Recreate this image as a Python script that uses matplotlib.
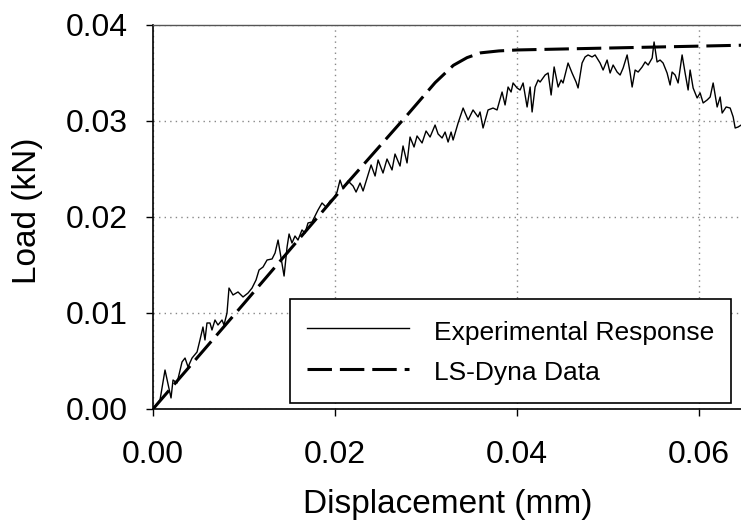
import numpy as np
import matplotlib
matplotlib.use('Agg')
import matplotlib.pyplot as plt

plt.rcParams['font.family'] = ['Liberation Sans', 'DejaVu Sans']

# experimental curve (displacement mm, load kN)
exp_disp = [0, 0.00077, 0.00132, 0.00198, 0.00220, 0.00264, 0.00319, 0.00352, 0.00385, 0.00429,
            0.00484, 0.00516, 0.00549, 0.00571, 0.00593, 0.00626, 0.00648, 0.00681, 0.00714, 0.00758,
            0.00780, 0.00813, 0.00835, 0.00879, 0.00934, 0.00989, 0.01044, 0.01088, 0.01132, 0.01165,
            0.01209, 0.01253, 0.01308, 0.01341, 0.01374, 0.01407, 0.01440, 0.01473, 0.01495, 0.01527,
            0.01560, 0.01593, 0.01637, 0.01670, 0.01703, 0.01747, 0.01780, 0.01813, 0.01857, 0.01901,
            0.01945, 0.01989, 0.02022, 0.02055, 0.02088, 0.02143, 0.02198, 0.02231, 0.02275, 0.02308,
            0.02352, 0.02396, 0.02440, 0.02473, 0.02527, 0.02571, 0.02626, 0.02659, 0.02714, 0.02747,
            0.02791, 0.02824, 0.02868, 0.02901, 0.02956, 0.03000, 0.03044, 0.03099, 0.03132, 0.03176,
            0.03209, 0.03242, 0.03275, 0.03297, 0.03352, 0.03407, 0.03462, 0.03516, 0.03571, 0.03593,
            0.03626, 0.03681, 0.03736, 0.03780, 0.03835, 0.03868, 0.03901, 0.03934, 0.03956, 0.04000,
            0.04033, 0.04066, 0.04110, 0.04143, 0.04165, 0.04198, 0.04231, 0.04253, 0.04308, 0.04341,
            0.04374, 0.04407, 0.04451, 0.04484, 0.04505, 0.04560, 0.04604, 0.04648, 0.04670, 0.04714,
            0.04747, 0.04780, 0.04824, 0.04857, 0.04912, 0.04945, 0.04989, 0.05022, 0.05055, 0.05099,
            0.05132, 0.05165, 0.05209, 0.05242, 0.05264, 0.05297, 0.05330, 0.05374, 0.05407, 0.05440,
            0.05484, 0.05505, 0.05538, 0.05571, 0.05604, 0.05648, 0.05681, 0.05703, 0.05736, 0.05769,
            0.05813, 0.05846, 0.05879, 0.05901, 0.05934, 0.05978, 0.06011, 0.06044, 0.06088, 0.06121,
            0.06154, 0.06198, 0.06231, 0.06253, 0.06297, 0.06341, 0.06374, 0.06396, 0.06429, 0.06462]
exp_load = [0, 0.00094, 0.00406, 0.00115, 0.00302, 0.00271, 0.00490, 0.00531, 0.00438, 0.00531,
            0.00594, 0.00719, 0.00854, 0.00719, 0.00896, 0.00896, 0.00823, 0.00927, 0.00875, 0.00927,
            0.00875, 0.01000, 0.01260, 0.01188, 0.01219, 0.01167, 0.01208, 0.01260, 0.01344, 0.01448,
            0.01479, 0.01552, 0.01563, 0.01625, 0.01760, 0.01573, 0.01385, 0.01688, 0.01823, 0.01729,
            0.01802, 0.01760, 0.01865, 0.01833, 0.01938, 0.01948, 0.02010, 0.02073, 0.02146, 0.02104,
            0.02167, 0.02198, 0.02260, 0.02385, 0.02292, 0.02375, 0.02323, 0.02260, 0.02354, 0.02271,
            0.02406, 0.02542, 0.02427, 0.02594, 0.02458, 0.02604, 0.02490, 0.02656, 0.02531, 0.02740,
            0.02563, 0.02833, 0.02729, 0.02844, 0.02771, 0.02896, 0.02833, 0.02958, 0.02865, 0.02823,
            0.02885, 0.02781, 0.02885, 0.02802, 0.02979, 0.03135, 0.03010, 0.03115, 0.03042, 0.03094,
            0.02927, 0.03115, 0.03135, 0.03115, 0.03302, 0.03167, 0.03354, 0.03302, 0.03396, 0.03344,
            0.03323, 0.03396, 0.03146, 0.03354, 0.03094, 0.03354, 0.03427, 0.03406, 0.03479, 0.03500,
            0.03271, 0.03563, 0.03354, 0.03427, 0.03396, 0.03604, 0.03500, 0.03406, 0.03344, 0.03604,
            0.03667, 0.03688, 0.03667, 0.03688, 0.03604, 0.03531, 0.03635, 0.03500, 0.03583, 0.03510,
            0.03479, 0.03552, 0.03688, 0.03500, 0.03354, 0.03531, 0.03510, 0.03563, 0.03615, 0.03583,
            0.03656, 0.03823, 0.03615, 0.03635, 0.03604, 0.03500, 0.03375, 0.03510, 0.03479, 0.03396,
            0.03688, 0.03500, 0.03323, 0.03531, 0.03344, 0.03240, 0.03292, 0.03188, 0.03219, 0.03250,
            0.03396, 0.03146, 0.03250, 0.03083, 0.03146, 0.03135, 0.03042, 0.02927, 0.02938, 0.02958]

# LS-Dyna simulation curve
dyna_disp = [0, 0.010, 0.020, 0.028, 0.031, 0.033, 0.0345, 0.036, 0.038, 0.040,
             0.045, 0.050, 0.055, 0.060, 0.065]
dyna_load = [0, 0.0110, 0.0221, 0.0307, 0.0340, 0.0358, 0.0366, 0.0371, 0.0373, 0.0374,
             0.0375, 0.0376, 0.0377, 0.0378, 0.0379]

xticks = [0.00, 0.02, 0.04, 0.06]
yticks = [0.00, 0.01, 0.02, 0.03, 0.04]

fig = plt.figure(figsize=(7.41, 5.27), dpi=100)
ax = fig.add_axes([153 / 741, 118 / 527, 588 / 741, 384 / 527])

ax.plot(exp_disp, exp_load, color='black', lw=1.0, label='Experimental Response')
ax.plot(dyna_disp, dyna_load, color='black', lw=2.2, dashes=(8, 2.6),
        label='LS-Dyna Data')

ax.set_xlim(0, 0.0646)
ax.set_ylim(0, 0.04)
ax.set_xticks(xticks)
ax.set_yticks(yticks)
ax.set_xticklabels(['%.2f' % v for v in xticks])
ax.set_yticklabels(['%.2f' % v for v in yticks])
ax.tick_params(axis='both', direction='out', length=5, width=1, labelsize=23)
ax.tick_params(axis='y', pad=13)
ax.tick_params(axis='x', pad=17)

ax.grid(True, linestyle=(0, (1, 3)), color='#888888', lw=1)
ax.set_axisbelow(True)
ax.spines['right'].set_visible(False)
for s in ['left', 'bottom']:
    ax.spines[s].set_linewidth(1.2)
ax.spines['top'].set_linewidth(1.0)
ax.spines['top'].set_color('#555555')

ax.set_xlabel('Displacement (mm)', fontsize=24, va='center')
ax.set_ylabel('Load (kN)', fontsize=24, va='center')
ax.xaxis.set_label_coords(0.502, -0.25)
ax.yaxis.set_label_coords(-0.2126, 0.516)

leg = ax.legend(loc='lower right', bbox_to_anchor=(0.983, 0.0156), borderaxespad=0,
                fontsize=19, handlelength=3.85, handleheight=1.3, handletextpad=0.95,
                labelspacing=0.45, borderpad=0.65, fancybox=False, framealpha=1,
                edgecolor='black')
leg.get_frame().set_linewidth(1.2)

fig.savefig('out.png', dpi=100)
